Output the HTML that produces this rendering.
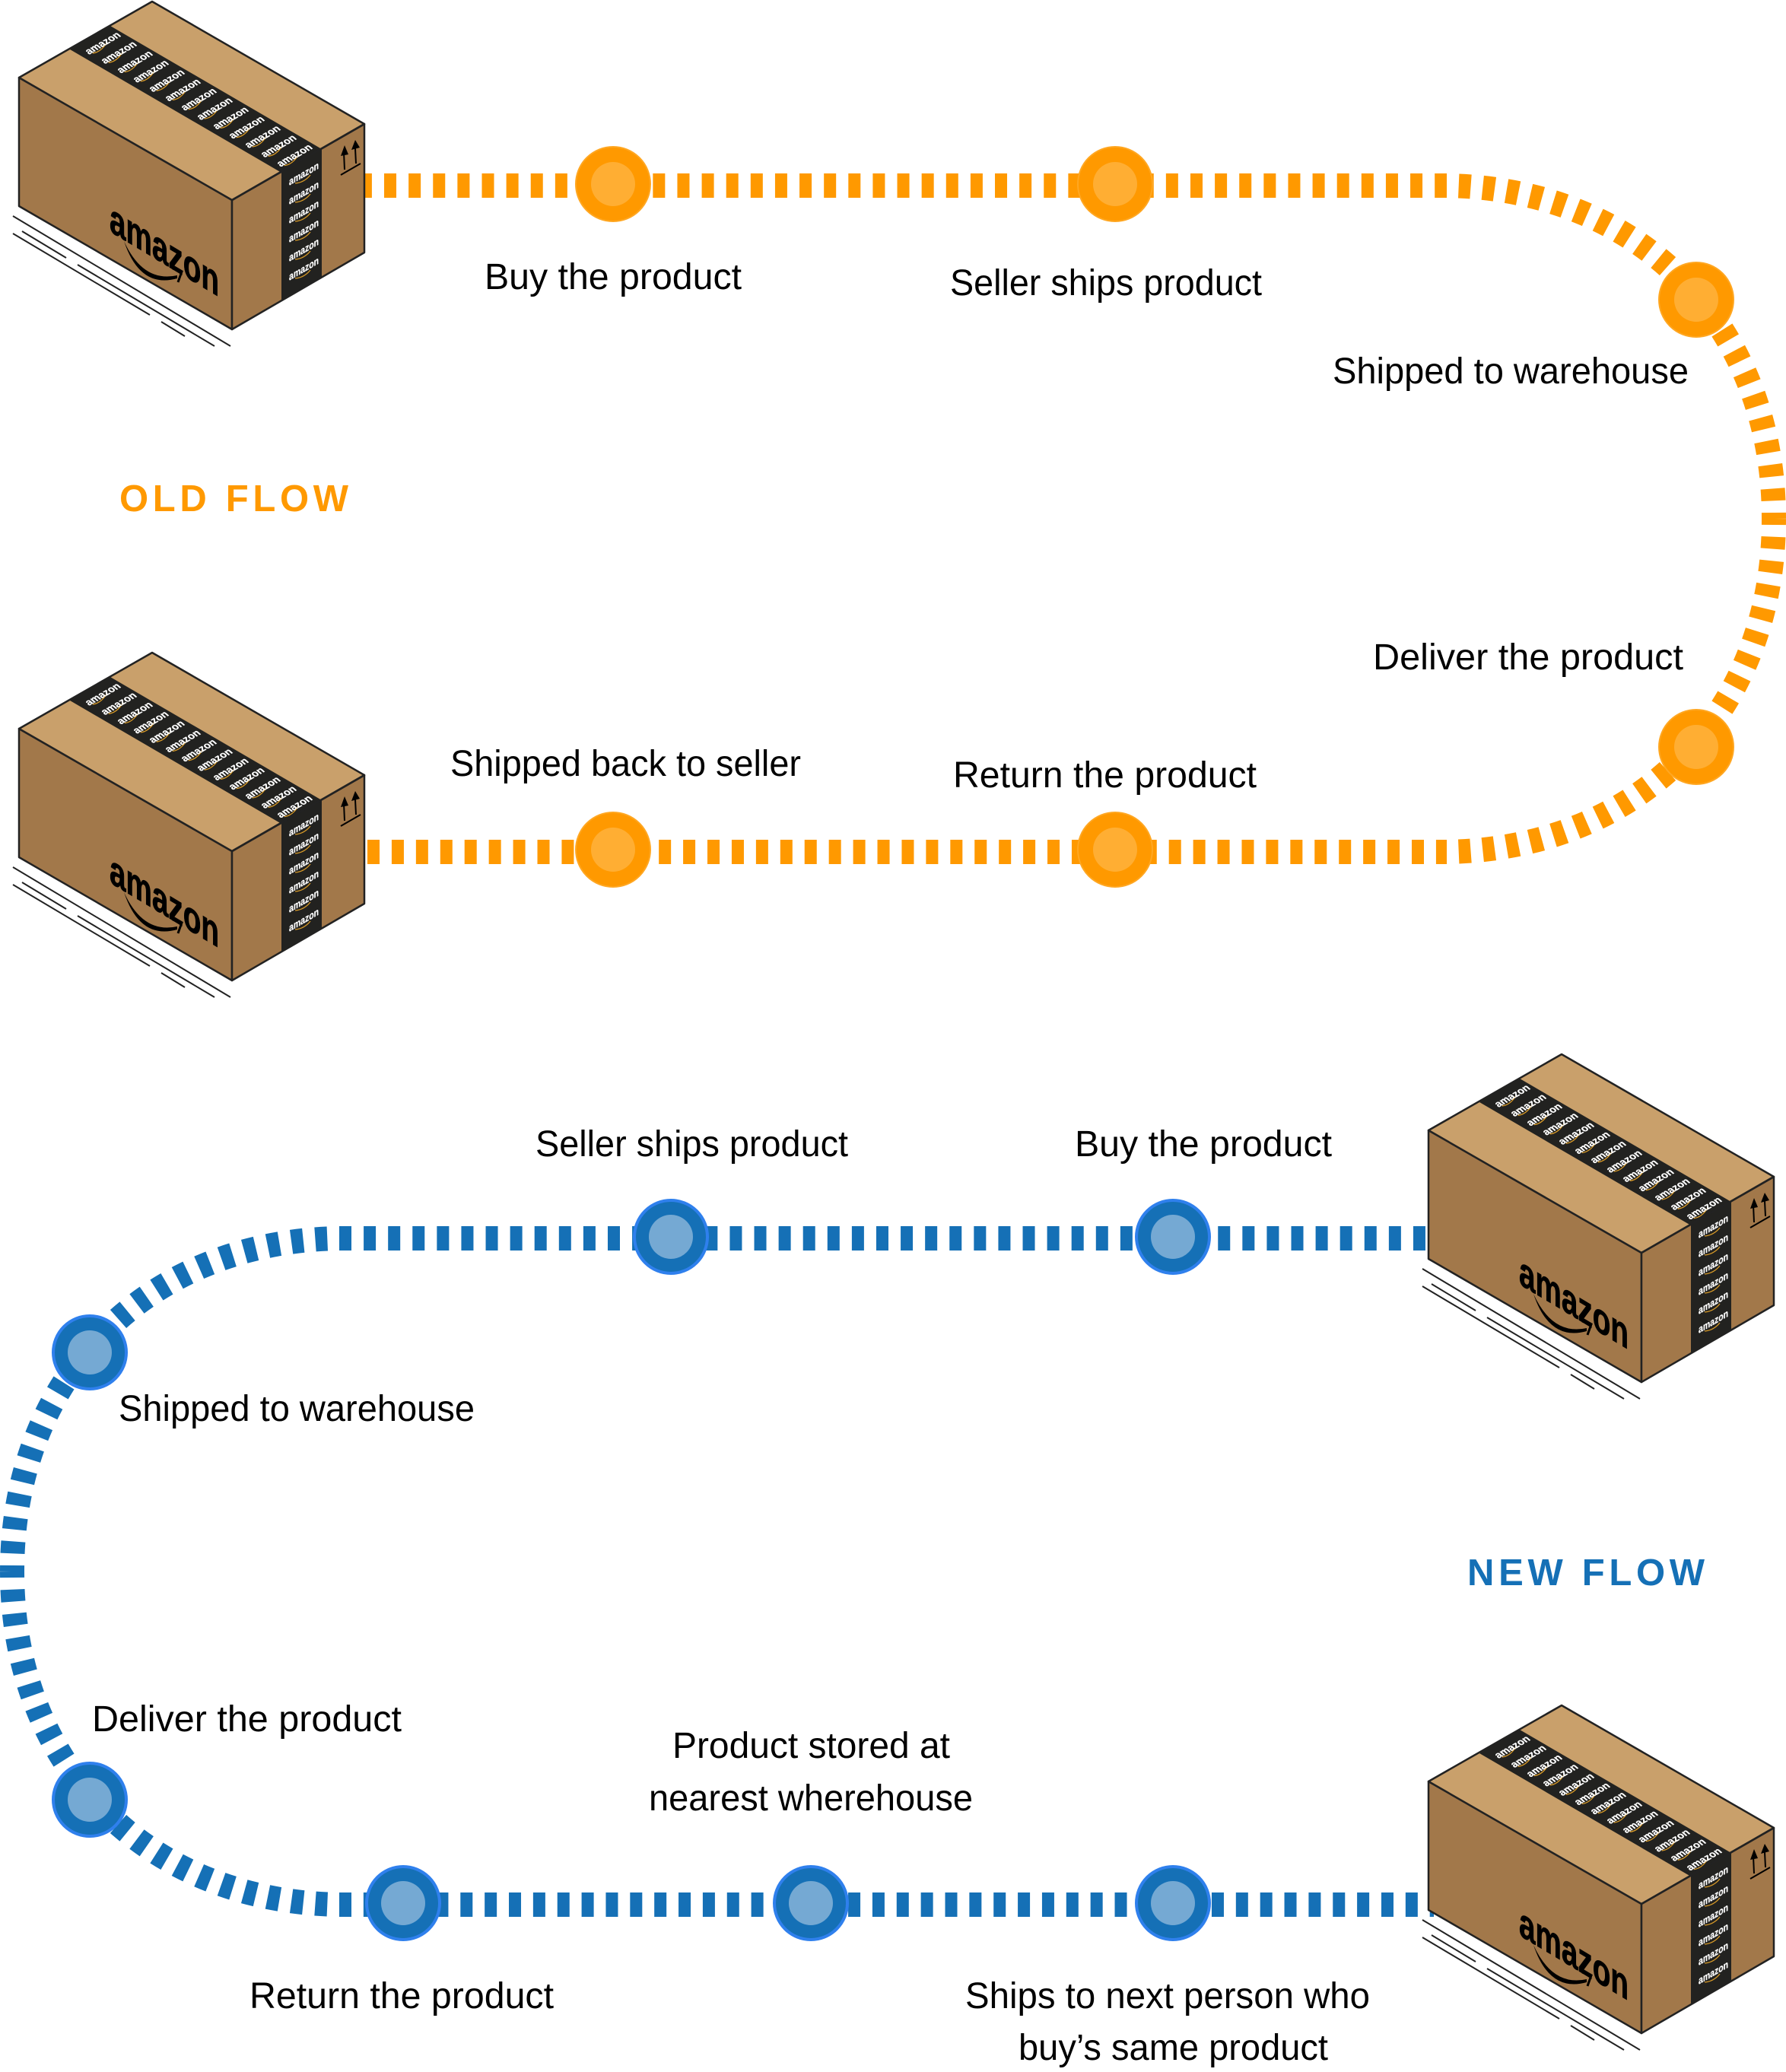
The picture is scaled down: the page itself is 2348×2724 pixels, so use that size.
<!DOCTYPE html>
<html><head><meta charset="utf-8"><style>
html,body{margin:0;padding:0;background:#fff}
svg{display:block}
.l{font:48px "Liberation Sans",sans-serif;fill:#000}
.h{font:bold 49px "Liberation Sans",sans-serif}
.t{font:bold 11.5px "Liberation Sans",sans-serif;fill:#fff;stroke:#fff;stroke-width:.2}
.v{font:bold 10.5px "Liberation Sans",sans-serif;fill:#fff;stroke:#fff;stroke-width:.2}
.b{font:bold 56px "Liberation Sans",sans-serif;fill:#000;stroke:#000;stroke-width:.8}
.o{fill:none;stroke:#f90;stroke-width:32}
.n{fill:none;stroke:#1570b6;stroke-width:32}
</style></head><body>
<svg xmlns="http://www.w3.org/2000/svg" width="2348" height="2724" viewBox="0 0 2348 2724">
<defs>
<g id="box">
<g stroke="#222" stroke-width="2" fill="none"><path d="M17 284L303 455M17 307L197 414M29 304L87 339M102 348L282 455M212 423L243 442"/></g>
<polygon points="25,102 305,263 305,433 25,271" fill="#a2784a" stroke="#222" stroke-width="2.5" stroke-linejoin="round"/>
<polygon points="305,263 479,163 479,332 305,433" fill="#a2784a" stroke="#222" stroke-width="2.5" stroke-linejoin="round"/>
<polygon points="200,2 25,102 305,263 479,163" fill="#c9a06b" stroke="#222" stroke-width="2.5" stroke-linejoin="round"/>
<polygon points="145,34 92,65 370,227 370,395 423,364 423,196" fill="#222220"/>
<path d="M305 263L479 163" stroke="#222" stroke-width="2.5"/>
<path fill="none" stroke="#d89a27" stroke-width="1.3" d="M121.7 70q10.3-1 18.3-13.3M142.7 82.3q10.3-1 18.3-13.3M163.7 94.6q10.3-1 18.3-13.3M184.7 106.9q10.3-1 18.3-13.3M205.7 119.2q10.3-1 18.3-13.3M226.7 131.5q10.3-1 18.3-13.3M247.7 143.8q10.3-1 18.3-13.3M268.7 156.1q10.3-1 18.3-13.3M289.7 168.4q10.3-1 18.3-13.3M310.7 180.7q10.3-1 18.3-13.3M331.7 193q10.3-1 18.3-13.3M352.7 205.3q10.3-1 18.3-13.3M373.7 217.6q10.3-1 18.3-13.3M388 241q12-1 20-11M388 266q12-1 20-11M388 291q12-1 20-11M388 316q12-1 20-11M388 341q12-1 20-11M388 366q12-1 20-11"/>
<path d="M163 317Q188 372 233 362L233 366Q184 380 163 317Z" fill="#000"/>
<path d="M227 353L239 357L234 371" fill="none" stroke="#000" stroke-width="3"/>
<path d="M448 230L474 215M453 223L452 200M468 215L467 195" stroke="#000" stroke-width="2" fill="none"/>
<path d="M448 205L453 191L458 203ZM462 197L467 184L473 194Z" fill="#000"/>
</g>
</defs>
<rect width="2348" height="2724" fill="#fff"/>

<path class="o" stroke-dasharray="16 16.12" d="M472.9 244H1902"/>
<path class="o" pathLength="704" stroke-dasharray="16 16" stroke-dashoffset="8" d="M1894 244C2152 244 2332 424 2332 682"/>
<path class="o" pathLength="704" stroke-dasharray="16 16" stroke-dashoffset="8" d="M1894 1120C2152 1120 2332 940 2332 682"/>
<path class="o" stroke-dasharray="16 15.93" d="M483 1120H1902"/>

<path class="n" stroke-dasharray="16 16.09" d="M446 1628H1885"/>
<path class="n" pathLength="704" stroke-dasharray="16 16" stroke-dashoffset="8" d="M454 1628C196 1628 16 1808 16 2066"/>
<path class="n" pathLength="704" stroke-dasharray="16 16" stroke-dashoffset="8" d="M454 2504C196 2504 16 2324 16 2066"/>
<path class="n" stroke-dasharray="16 15.86" d="M446 2504H1885"/>

<g fill="#f90" stroke="#ffa722" stroke-width="2">
<circle cx="806" cy="242" r="49"/><circle cx="1466" cy="242" r="49"/><circle cx="2230" cy="394" r="49"/><circle cx="2230" cy="982" r="49"/><circle cx="1466" cy="1117" r="49"/><circle cx="806" cy="1117" r="49"/>
</g>
<g fill="#ffae33">
<circle cx="806" cy="242" r="29"/><circle cx="1466" cy="242" r="29"/><circle cx="2230" cy="394" r="29"/><circle cx="2230" cy="982" r="29"/><circle cx="1466" cy="1117" r="29"/><circle cx="806" cy="1117" r="29"/>
</g>
<g fill="#1570b6" stroke="#2f80ed" stroke-width="4">
<circle cx="882" cy="1626" r="48"/><circle cx="1542" cy="1626" r="48"/><circle cx="118" cy="1778" r="48"/><circle cx="118" cy="2366" r="48"/><circle cx="530" cy="2502" r="48"/><circle cx="1066" cy="2502" r="48"/><circle cx="1542" cy="2502" r="48"/>
</g>
<g fill="#75a9d3">
<circle cx="882" cy="1626" r="29"/><circle cx="1542" cy="1626" r="29"/><circle cx="118" cy="1778" r="29"/><circle cx="118" cy="2366" r="29"/><circle cx="530" cy="2502" r="29"/><circle cx="1066" cy="2502" r="29"/><circle cx="1542" cy="2502" r="29"/>
</g>

<use href="#box"/>
<use href="#box" y="856"/>
<use href="#box" x="1853" y="1384"/>
<use href="#box" x="1853" y="2240"/>

<g>
<text class="b" transform="matrix(1 .6 0 1 144 304)" textLength="144" lengthAdjust="spacingAndGlyphs">amazon</text>
<text class="t" transform="matrix(1 -.577 .9 .8 117 72)">amazon</text><text class="t" transform="matrix(1 -.577 .9 .8 138 84.3)">amazon</text><text class="t" transform="matrix(1 -.577 .9 .8 159 96.6)">amazon</text><text class="t" transform="matrix(1 -.577 .9 .8 180 108.9)">amazon</text><text class="t" transform="matrix(1 -.577 .9 .8 201 121.2)">amazon</text><text class="t" transform="matrix(1 -.577 .9 .8 222 133.5)">amazon</text><text class="t" transform="matrix(1 -.577 .9 .8 243 145.8)">amazon</text><text class="t" transform="matrix(1 -.577 .9 .8 264 158.1)">amazon</text><text class="t" transform="matrix(1 -.577 .9 .8 285 170.4)">amazon</text><text class="t" transform="matrix(1 -.577 .9 .8 306 182.7)">amazon</text><text class="t" transform="matrix(1 -.577 .9 .8 327 195)">amazon</text><text class="t" transform="matrix(1 -.577 .9 .8 348 207.3)">amazon</text><text class="t" transform="matrix(1 -.577 .9 .8 369 219.6)">amazon</text>
<text class="v" transform="matrix(1 -.577 0 1.3 380 244)">amazon</text><text class="v" transform="matrix(1 -.577 0 1.3 380 269)">amazon</text><text class="v" transform="matrix(1 -.577 0 1.3 380 294)">amazon</text><text class="v" transform="matrix(1 -.577 0 1.3 380 319)">amazon</text><text class="v" transform="matrix(1 -.577 0 1.3 380 344)">amazon</text><text class="v" transform="matrix(1 -.577 0 1.3 380 369)">amazon</text>
</g>
<g transform="translate(0 856)">
<text class="b" transform="matrix(1 .6 0 1 144 304)" textLength="144" lengthAdjust="spacingAndGlyphs">amazon</text>
<text class="t" transform="matrix(1 -.577 .9 .8 117 72)">amazon</text><text class="t" transform="matrix(1 -.577 .9 .8 138 84.3)">amazon</text><text class="t" transform="matrix(1 -.577 .9 .8 159 96.6)">amazon</text><text class="t" transform="matrix(1 -.577 .9 .8 180 108.9)">amazon</text><text class="t" transform="matrix(1 -.577 .9 .8 201 121.2)">amazon</text><text class="t" transform="matrix(1 -.577 .9 .8 222 133.5)">amazon</text><text class="t" transform="matrix(1 -.577 .9 .8 243 145.8)">amazon</text><text class="t" transform="matrix(1 -.577 .9 .8 264 158.1)">amazon</text><text class="t" transform="matrix(1 -.577 .9 .8 285 170.4)">amazon</text><text class="t" transform="matrix(1 -.577 .9 .8 306 182.7)">amazon</text><text class="t" transform="matrix(1 -.577 .9 .8 327 195)">amazon</text><text class="t" transform="matrix(1 -.577 .9 .8 348 207.3)">amazon</text><text class="t" transform="matrix(1 -.577 .9 .8 369 219.6)">amazon</text>
<text class="v" transform="matrix(1 -.577 0 1.3 380 244)">amazon</text><text class="v" transform="matrix(1 -.577 0 1.3 380 269)">amazon</text><text class="v" transform="matrix(1 -.577 0 1.3 380 294)">amazon</text><text class="v" transform="matrix(1 -.577 0 1.3 380 319)">amazon</text><text class="v" transform="matrix(1 -.577 0 1.3 380 344)">amazon</text><text class="v" transform="matrix(1 -.577 0 1.3 380 369)">amazon</text>
</g>
<g transform="translate(1853 1384)">
<text class="b" transform="matrix(1 .6 0 1 144 304)" textLength="144" lengthAdjust="spacingAndGlyphs">amazon</text>
<text class="t" transform="matrix(1 -.577 .9 .8 117 72)">amazon</text><text class="t" transform="matrix(1 -.577 .9 .8 138 84.3)">amazon</text><text class="t" transform="matrix(1 -.577 .9 .8 159 96.6)">amazon</text><text class="t" transform="matrix(1 -.577 .9 .8 180 108.9)">amazon</text><text class="t" transform="matrix(1 -.577 .9 .8 201 121.2)">amazon</text><text class="t" transform="matrix(1 -.577 .9 .8 222 133.5)">amazon</text><text class="t" transform="matrix(1 -.577 .9 .8 243 145.8)">amazon</text><text class="t" transform="matrix(1 -.577 .9 .8 264 158.1)">amazon</text><text class="t" transform="matrix(1 -.577 .9 .8 285 170.4)">amazon</text><text class="t" transform="matrix(1 -.577 .9 .8 306 182.7)">amazon</text><text class="t" transform="matrix(1 -.577 .9 .8 327 195)">amazon</text><text class="t" transform="matrix(1 -.577 .9 .8 348 207.3)">amazon</text><text class="t" transform="matrix(1 -.577 .9 .8 369 219.6)">amazon</text>
<text class="v" transform="matrix(1 -.577 0 1.3 380 244)">amazon</text><text class="v" transform="matrix(1 -.577 0 1.3 380 269)">amazon</text><text class="v" transform="matrix(1 -.577 0 1.3 380 294)">amazon</text><text class="v" transform="matrix(1 -.577 0 1.3 380 319)">amazon</text><text class="v" transform="matrix(1 -.577 0 1.3 380 344)">amazon</text><text class="v" transform="matrix(1 -.577 0 1.3 380 369)">amazon</text>
</g>
<g transform="translate(1853 2240)">
<text class="b" transform="matrix(1 .6 0 1 144 304)" textLength="144" lengthAdjust="spacingAndGlyphs">amazon</text>
<text class="t" transform="matrix(1 -.577 .9 .8 117 72)">amazon</text><text class="t" transform="matrix(1 -.577 .9 .8 138 84.3)">amazon</text><text class="t" transform="matrix(1 -.577 .9 .8 159 96.6)">amazon</text><text class="t" transform="matrix(1 -.577 .9 .8 180 108.9)">amazon</text><text class="t" transform="matrix(1 -.577 .9 .8 201 121.2)">amazon</text><text class="t" transform="matrix(1 -.577 .9 .8 222 133.5)">amazon</text><text class="t" transform="matrix(1 -.577 .9 .8 243 145.8)">amazon</text><text class="t" transform="matrix(1 -.577 .9 .8 264 158.1)">amazon</text><text class="t" transform="matrix(1 -.577 .9 .8 285 170.4)">amazon</text><text class="t" transform="matrix(1 -.577 .9 .8 306 182.7)">amazon</text><text class="t" transform="matrix(1 -.577 .9 .8 327 195)">amazon</text><text class="t" transform="matrix(1 -.577 .9 .8 348 207.3)">amazon</text><text class="t" transform="matrix(1 -.577 .9 .8 369 219.6)">amazon</text>
<text class="v" transform="matrix(1 -.577 0 1.3 380 244)">amazon</text><text class="v" transform="matrix(1 -.577 0 1.3 380 269)">amazon</text><text class="v" transform="matrix(1 -.577 0 1.3 380 294)">amazon</text><text class="v" transform="matrix(1 -.577 0 1.3 380 319)">amazon</text><text class="v" transform="matrix(1 -.577 0 1.3 380 344)">amazon</text><text class="v" transform="matrix(1 -.577 0 1.3 380 369)">amazon</text>
</g>

<g>
<text class="l" x="637" y="380" textLength="338" lengthAdjust="spacingAndGlyphs">Buy the product</text>
<text class="l" x="1249" y="388" textLength="410" lengthAdjust="spacingAndGlyphs">Seller ships product</text>
<text class="l" x="1752" y="504" textLength="468" lengthAdjust="spacingAndGlyphs">Shipped to warehouse</text>
<text class="l" x="1805" y="880" textLength="408" lengthAdjust="spacingAndGlyphs">Deliver the product</text>
<text class="l" x="592" y="1020" textLength="461" lengthAdjust="spacingAndGlyphs">Shipped back to seller</text>
<text class="l" x="1253" y="1035" textLength="399" lengthAdjust="spacingAndGlyphs">Return the product</text>
<text class="l" x="704" y="1520" textLength="411" lengthAdjust="spacingAndGlyphs">Seller ships product</text>
<text class="l" x="1413" y="1520" textLength="338" lengthAdjust="spacingAndGlyphs">Buy the product</text>
<text class="l" x="156" y="1868" textLength="468" lengthAdjust="spacingAndGlyphs">Shipped to warehouse</text>
<text class="l" x="121" y="2276" textLength="407" lengthAdjust="spacingAndGlyphs">Deliver the product</text>
<text class="l" x="884" y="2311" textLength="365" lengthAdjust="spacingAndGlyphs">Product stored at</text>
<text class="l" x="853" y="2380" textLength="426" lengthAdjust="spacingAndGlyphs">nearest wherehouse</text>
<text class="l" x="328" y="2640" textLength="400" lengthAdjust="spacingAndGlyphs">Return the product</text>
<text class="l" x="1269" y="2640" textLength="532" lengthAdjust="spacingAndGlyphs">Ships to next person who</text>
<text class="l" x="1339" y="2708" textLength="407" lengthAdjust="spacingAndGlyphs">buy’s same product</text>
</g>
<text class="h" x="157" y="672" fill="#f90" textLength="301" lengthAdjust="spacing">OLD FLOW</text>
<text class="h" x="1929" y="2084" fill="#1570b6" textLength="312" lengthAdjust="spacing">NEW FLOW</text>
</svg>
</body></html>
